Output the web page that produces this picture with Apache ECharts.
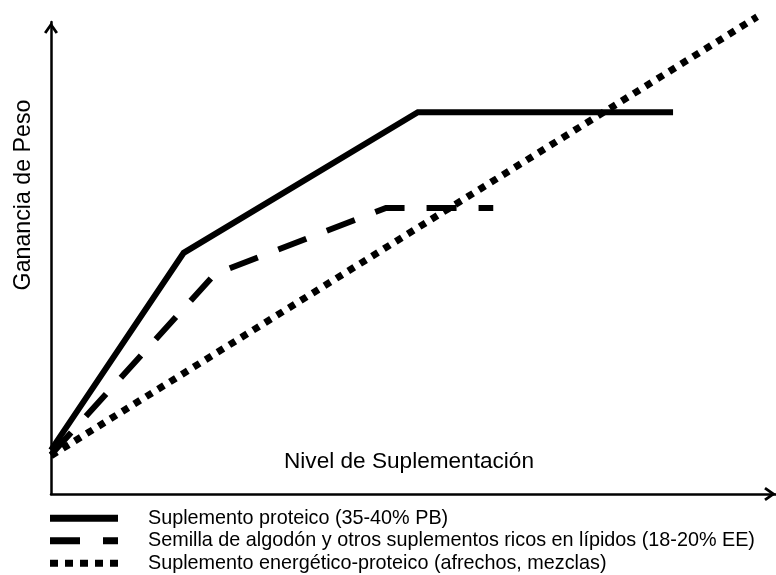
<!DOCTYPE html>
<html>
<head>
<meta charset="utf-8">
<script src="https://cdn.jsdelivr.net/npm/echarts@6/dist/echarts.min.js"></script>
<style>
html, body { margin: 0; padding: 0; background: #fff; }
#main { width: 776px; height: 575px; }
</style>
</head>
<body>
<div id="main"></div>
<script>
// ---- 数据 ----
var seriesNames = [
    'Suplemento proteico (35-40% PB)',
    'Semilla de algodón y otros suplementos ricos en lípidos (18-20% EE)',
    'Suplemento energético-proteico (afrechos, mezclas)'
];
// [nivel de suplementación, ganancia de peso] (escala relativa 0-100)
var proteico = [[0, 9.3], [18.3, 51.1], [50.6, 80.9], [85.8, 80.9]];
var algodon = [[0, 8.3], [22.6, 46.6], [46.2, 60.6], [61.0, 60.6]];
var energetico = [[0, 8.1], [97.4, 101.1]];

var xTitle = 'Nivel de Suplementación';
var yTitle = 'Ganancia de Peso';

var fontName = '"Liberation Sans", Arial, sans-serif';
// 箭头（开口）
var chevron = 'path://M6,0L12,8.6L10,10L6,4.2L2,10L0,8.6Z';

function axisCfg() {
    return {
        type: 'value',
        min: 0,
        max: 100,
        axisLine: {
            show: true,
            onZero: false,
            symbol: ['none', chevron],
            symbolSize: [14, 12],
            symbolOffset: [0, -6],
            lineStyle: { color: '#000', width: 2.5 }
        },
        axisTick: { show: false },
        axisLabel: { show: false },
        splitLine: { show: false }
    };
}

var option = {
    animation: false,
    backgroundColor: '#fff',
    grid: {
        left: 51,
        right: 0,
        top: 22,
        bottom: 81,
        outerBoundsMode: 'none'
    },
    xAxis: axisCfg(),
    yAxis: axisCfg(),
    legend: {
        orient: 'vertical',
        left: 50,
        top: 507,
        padding: 0,
        itemWidth: 68,
        itemHeight: 7,
        itemGap: 0,
        selectedMode: false,
        itemStyle: { borderWidth: 0 },
        textStyle: {
            color: '#000',
            fontSize: 19.8,
            fontFamily: fontName,
            lineHeight: 22.5,
            padding: [0, 0, 0, 25]
        },
        data: [
            { name: seriesNames[0], icon: 'path://M0,0H68V7H0Z' },
            { name: seriesNames[1], icon: 'path://M0,0H30V7H0Z M53,0H68V7H53Z' },
            { name: seriesNames[2], icon: 'path://M0,0H8V7H0Z M15,0H23V7H15Z M30,0H38V7H30Z M45,0H53V7H45Z M60,0H68V7H60Z' }
        ]
    },
    graphic: [
        {
            type: 'text',
            x: 409,
            y: 462,
            style: {
                text: xTitle,
                font: '22.6px ' + fontName,
                fill: '#000',
                align: 'center',
                verticalAlign: 'middle'
            }
        },
        {
            type: 'text',
            x: 24,
            y: 195,
            rotation: Math.PI / 2,
            style: {
                text: yTitle,
                font: '23.2px ' + fontName,
                fill: '#000',
                align: 'center',
                verticalAlign: 'middle'
            }
        }
    ],
    series: [
        {
            name: seriesNames[0],
            type: 'line',
            symbol: 'none',
            clip: false,
            itemStyle: { color: '#000' },
            lineStyle: { color: '#000', width: 6, type: 'solid', join: 'miter' },
            data: proteico
        },
        {
            name: seriesNames[1],
            type: 'line',
            symbol: 'none',
            clip: false,
            itemStyle: { color: '#000' },
            lineStyle: { color: '#000', width: 6, type: [30, 22], cap: 'butt', join: 'miter' },
            data: algodon
        },
        {
            name: seriesNames[2],
            type: 'line',
            symbol: 'none',
            clip: false,
            itemStyle: { color: '#000' },
            lineStyle: { color: '#000', width: 7, type: [7, 7], cap: 'butt' },
            data: energetico
        }
    ]
};

var myChart = echarts.init(document.getElementById('main'));
myChart.setOption(option);
</script>
</body>
</html>
